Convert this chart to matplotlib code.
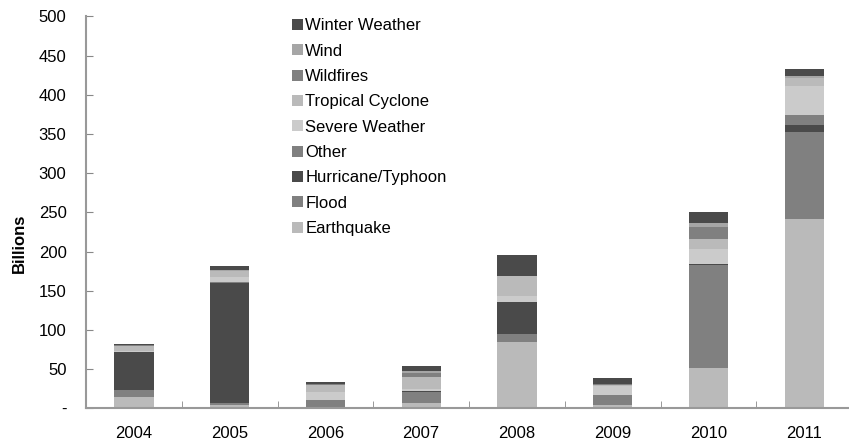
import matplotlib
matplotlib.use('agg')
import matplotlib.pyplot as plt
import numpy as np

plt.rcParams['font.family'] = ['Liberation Sans', 'DejaVu Sans']

years = ['2004', '2005', '2006', '2007', '2008', '2009', '2010', '2011']

# Losses by peril, billions (stacked bottom to top)
earthquake = [14.0, 4.0, 2.0, 7.2, 85.0, 4.3, 52.0, 241.5]
flood = [9.3, 3.0, 7.7, 14.0, 9.4, 12.7, 131.4, 111.3]
hurricane = [48.0, 153.0, 0.0, 0.5, 40.8, 0.3, 0.5, 8.5]
other = [0.5, 1.0, 0.5, 0.5, 0.5, 0.3, 0.5, 12.8]
severe_weather = [1.0, 6.0, 10.0, 2.0, 7.0, 11.0, 18.5, 37.0]
tropical_cyclone = [7.0, 8.0, 9.4, 16.0, 25.5, 0.5, 12.8, 9.8]
wildfires = [0.5, 0.5, 1.2, 4.3, 0.3, 1.5, 15.0, 1.0]
wind = [0.5, 0.5, 0.5, 3.0, 0.3, 0.5, 6.0, 1.5]
winter_weather = [1.5, 5.0, 2.0, 6.8, 26.7, 7.6, 13.6, 9.0]

series = [
    ('Earthquake', earthquake, '#bababa'),
    ('Flood', flood, '#808080'),
    ('Hurricane/Typhoon', hurricane, '#4a4a4a'),
    ('Other', other, '#808080'),
    ('Severe Weather', severe_weather, '#cbcbcb'),
    ('Tropical Cyclone', tropical_cyclone, '#bababa'),
    ('Wildfires', wildfires, '#808080'),
    ('Wind', wind, '#a6a6a6'),
    ('Winter Weather', winter_weather, '#4a4a4a'),
]

fig = plt.figure(figsize=(8.49, 4.43), dpi=100)
ax = fig.add_axes([0.1013, 0.0783, 0.9023, 0.8849])

x = np.arange(len(years))
bottom = np.zeros(len(years))
for name, vals, color in series:
    ax.bar(x, vals, width=0.41, bottom=bottom, color=color, label=name, linewidth=0)
    bottom += np.array(vals)

ax.set_xlim(-0.5, len(years) - 0.5)
ax.set_ylim(0, 500)
ax.set_yticks(np.arange(0, 501, 50))
ax.set_yticklabels(['-'] + [str(v) for v in range(50, 501, 50)], fontsize=12)
ax.set_xticks(x)
ax.set_xticklabels(years, fontsize=12)
ax.set_xticks(np.arange(0.5, len(years) - 0.5, 1), minor=True)
ax.tick_params(axis='x', which='major', length=0, pad=13)
ax.tick_params(axis='x', which='minor', direction='in', length=5, color='#888888')
ax.tick_params(axis='y', direction='in', length=5, color='#888888', pad=14)

for side in ['top', 'right']:
    ax.spines[side].set_visible(False)
for side in ['left', 'bottom']:
    ax.spines[side].set_color('#999999')
    ax.spines[side].set_linewidth(1.5)

ax.set_ylabel('Billions', fontsize=12, fontweight='bold')
ax.yaxis.set_label_coords(-0.077, 0.42)

handles, labels = ax.get_legend_handles_labels()
ax.legend(handles[::-1], labels[::-1], loc='upper left', bbox_to_anchor=(0.26, 1.012),
          frameon=False, fontsize=12, handlelength=0.65, handleheight=0.65,
          handletextpad=0.15, labelspacing=0.62, borderaxespad=0)

fig.savefig('out.png', dpi=100)
